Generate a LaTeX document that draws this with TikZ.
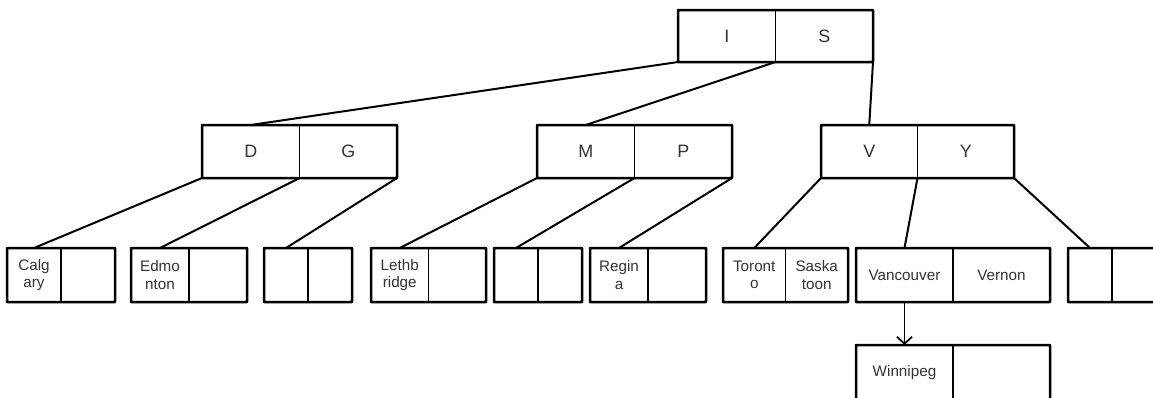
\documentclass[tikz,border=0pt]{standalone}
\usepackage{fontspec}
\setmainfont{Liberation Sans}
\usetikzlibrary{arrows.meta}
\tikzset{
  cell/.style={draw=black, line width=1.8bp, inner sep=0pt, outer sep=0pt,
    anchor=north west, align=center, text=black!80},
  outer/.style={draw=black, line width=2.5bp, rounded corners=1bp},
  conn/.style={draw=black, line width=2bp},
  arr/.style={draw=black, line width=1.8bp, -{Straight Barb[length=7bp,width=15bp,line width=1.8bp]}},
  bigtxt/.style={font=\fontsize{18}{20}\selectfont},
  smalltxt/.style={font=\fontsize{15.3}{17.5}\selectfont}
}
% \rec{name}{xleft}{ytop}{cellwidth}{height}{style}{left}{right}
\newcommand{\rec}[8]{%
  \node[cell,#6,minimum width=#4bp,minimum height=#5bp] (#1-l) at (#2,#3) {#7};
  \node[cell,#6,minimum width=#4bp,minimum height=#5bp] (#1-r) at (#1-l.north east) {#8};
  \draw[outer] (#1-l.north west) rectangle (#1-r.south east);
}
\begin{document}
\begin{tikzpicture}[x=1bp,y=-1bp]
  \clip (0,0) rectangle (1153,397);
  \fill[white] (0,0) rectangle (1153,397);
  % level 0
  \rec{IS}{678}{10}{97.5}{52}{bigtxt}{I}{S}
  % level 1
  \rec{DG}{202}{125}{97.5}{53}{bigtxt}{D}{G}
  \rec{MP}{537}{125}{97.5}{53}{bigtxt}{M}{P}
  \rec{VY}{821}{125}{96.5}{53}{bigtxt}{V}{Y}
  % leaves
  \rec{Cal}{7}{248}{54}{54}{smalltxt}{Calg\\ary}{}
  \rec{Edm}{131}{248}{58}{54}{smalltxt}{Edmo\\nton}{}
  \rec{EA}{264}{248}{44}{54}{smalltxt}{}{}
  \rec{Let}{371}{248}{57.5}{54}{smalltxt}{Lethb\\ridge}{}
  \rec{EB}{494}{248}{44}{54}{smalltxt}{}{}
  \rec{Reg}{590}{248}{58}{54}{smalltxt}{Regin\\a}{}
  \rec{Tor}{723}{248}{62.5}{54}{smalltxt}{Toront\\o}{Saska\\toon}
  \rec{Van}{856}{248}{97}{54}{smalltxt}{Vancouver}{Vernon}
  \rec{EC}{1068}{248}{44}{54}{smalltxt}{}{}
  \rec{Win}{856}{345}{97}{55}{smalltxt}{Winnipeg}{}
  % connectors
  \draw[conn] (IS-l.south west) -- (DG-l.north);
  \draw[conn] (IS-l.south east) -- (MP-l.north);
  \draw[conn] (IS-r.south east) -- (VY-l.north);
  \draw[conn] (DG-l.south west) -- (Cal-l.north);
  \draw[conn] (DG-l.south east) -- (Edm-l.north);
  \draw[conn] (DG-r.south east) -- (EA-l.north);
  \draw[conn] (MP-l.south west) -- (Let-l.north);
  \draw[conn] (MP-l.south east) -- (EB-l.north);
  \draw[conn] (MP-r.south east) -- (Reg-l.north);
  \draw[conn] (VY-l.south west) -- (Tor-l.north);
  \draw[conn] (VY-l.south east) -- (Van-l.north);
  \draw[conn] (VY-r.south east) -- (EC-l.north);
  \draw[arr] (Van-l.south) -- (Win-l.north);
\end{tikzpicture}
\end{document}
